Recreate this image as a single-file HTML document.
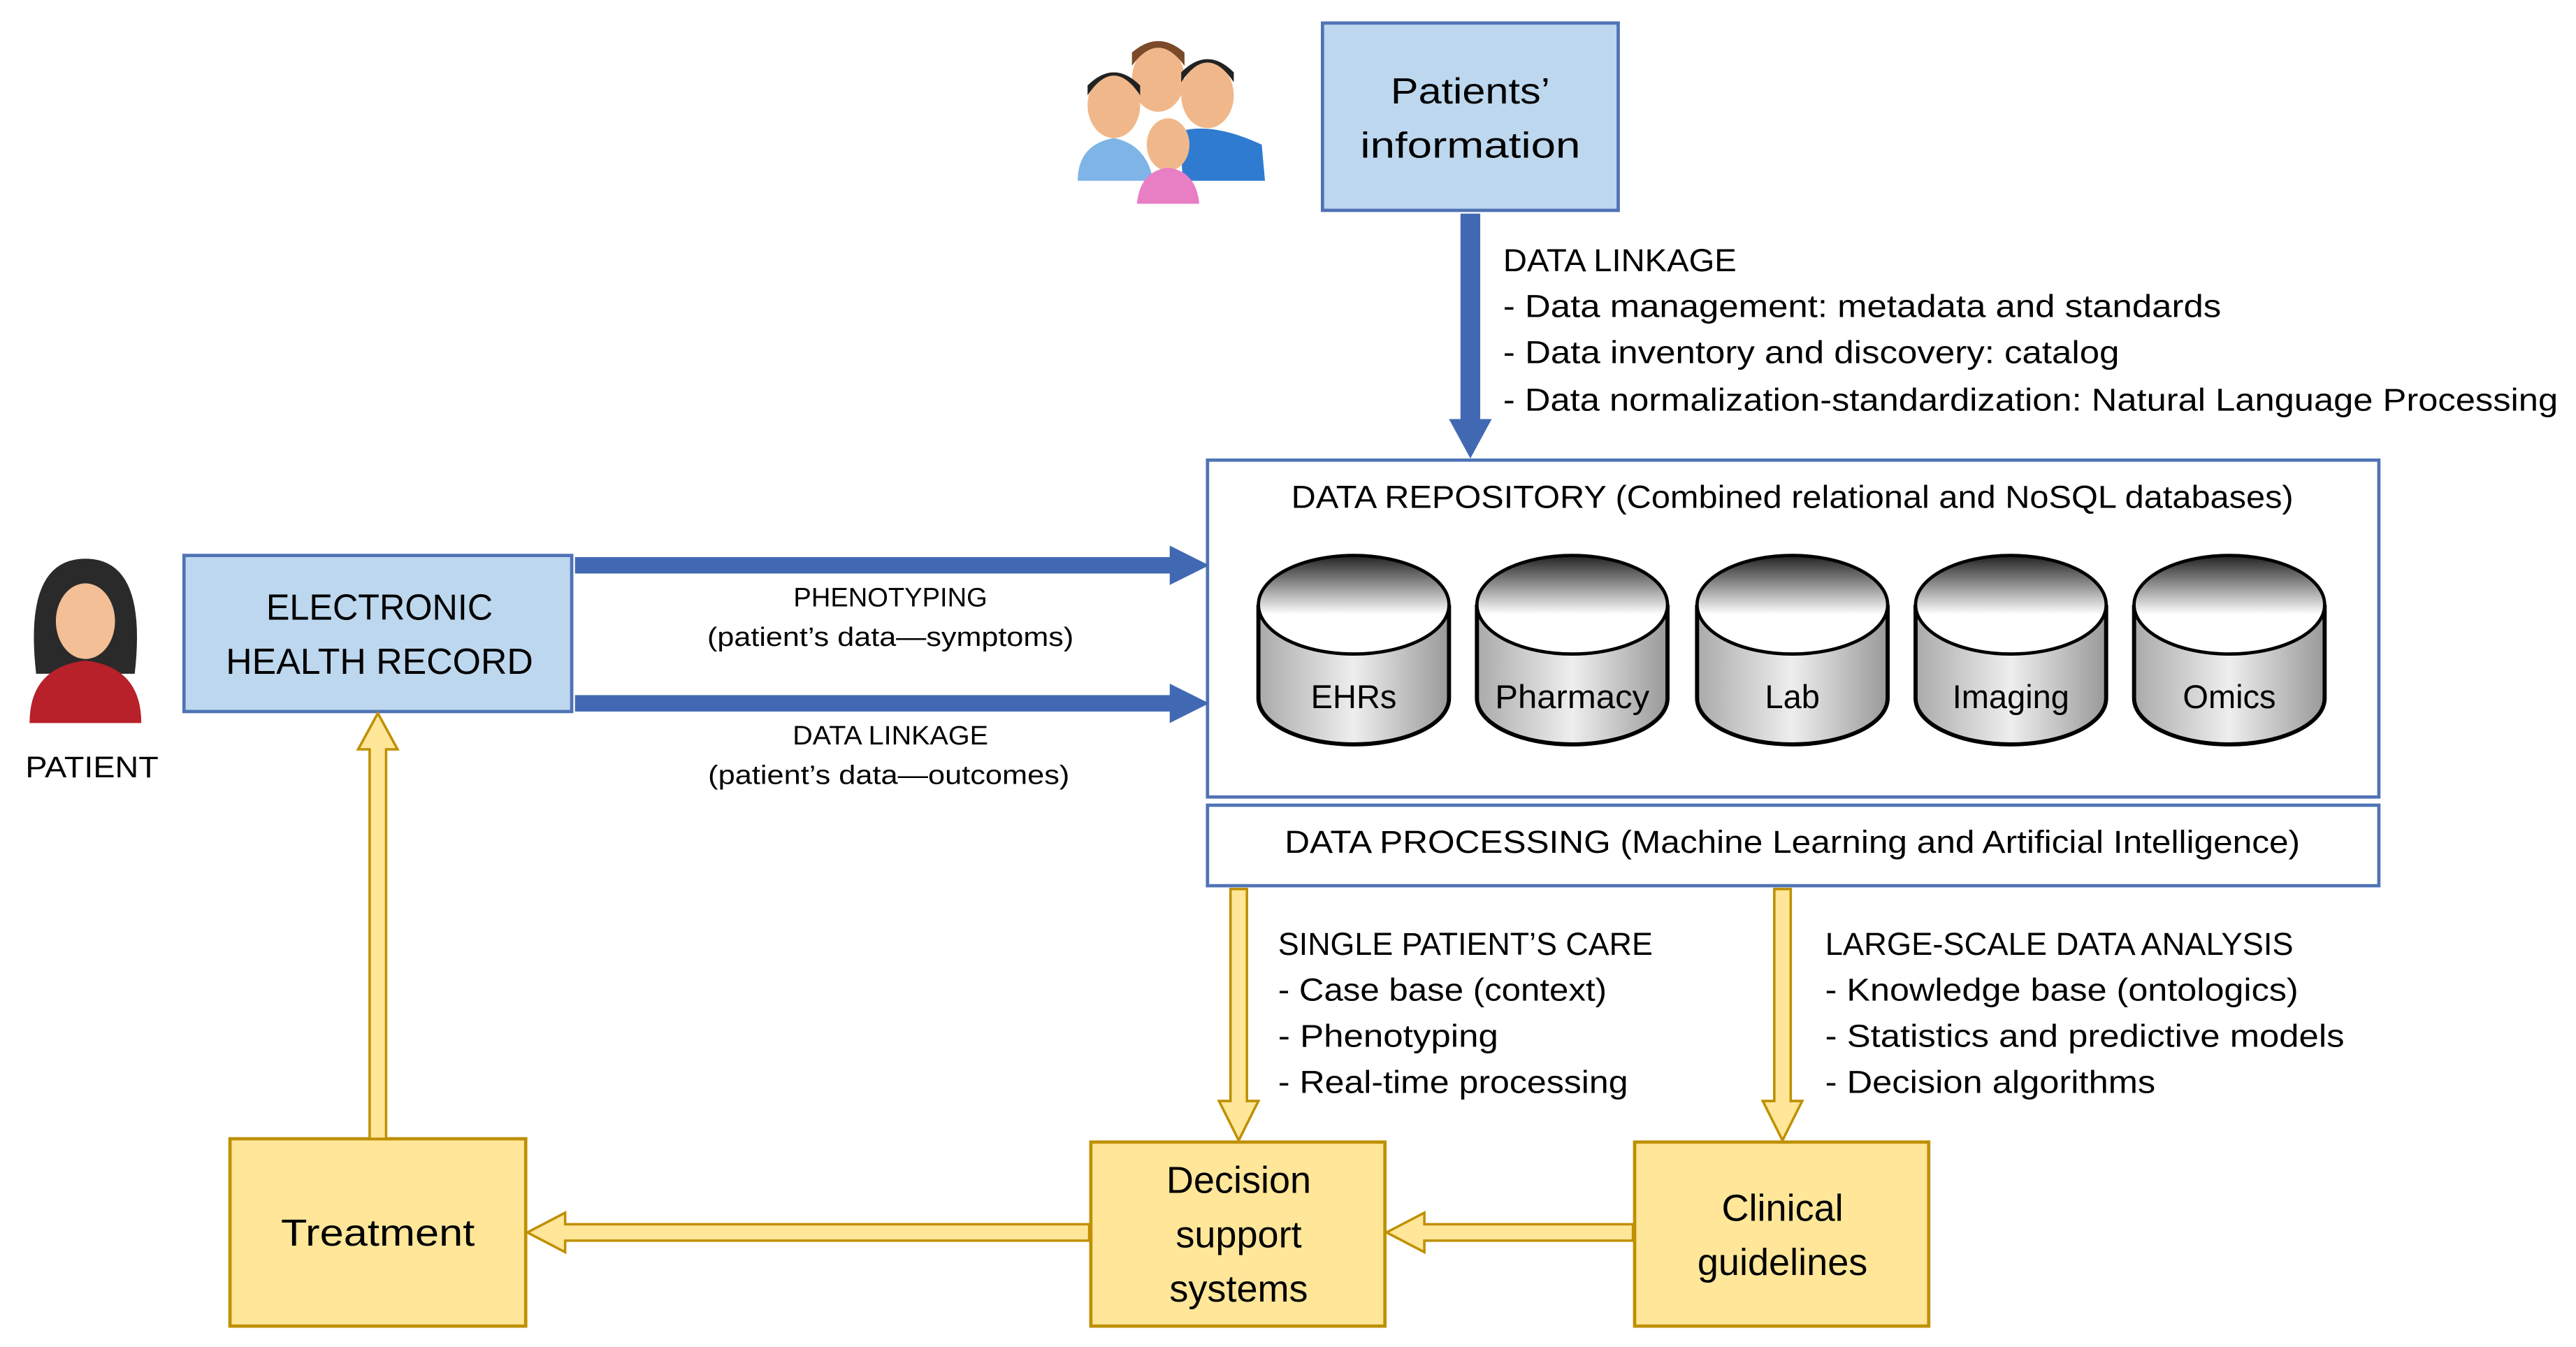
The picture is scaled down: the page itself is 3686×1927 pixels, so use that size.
<!DOCTYPE html>
<html><head><meta charset="utf-8"><style>html,body{margin:0;padding:0;background:#fff}svg{display:block}</style></head>
<body>
<svg width="3686" height="1927" viewBox="0 0 1568 819.7" xmlns="http://www.w3.org/2000/svg" font-family="Liberation Sans, sans-serif" fill="#000">
<defs>
<linearGradient id="cg" x1="0" y1="0" x2="0" y2="1"><stop offset="0" stop-color="#222"/><stop offset="0.6" stop-color="#fff"/></linearGradient>
<linearGradient id="cb" x1="0" y1="0" x2="1" y2="0"><stop offset="0" stop-color="#aaa"/><stop offset="0.5" stop-color="#eee"/><stop offset="1" stop-color="#999"/></linearGradient>
</defs>
<g>
<ellipse cx="705" cy="48" rx="16" ry="20" fill="#f0b88a"/><path d="M689 40 q16-22 32 0 l0-8 q-16-14-32 0z" fill="#7a4a2a"/>
<ellipse cx="735" cy="58" rx="16" ry="20" fill="#f0b88a"/><path d="M719 50 q16-24 32 0 l0-6 q-16-16-32 0z" fill="#222"/>
<path d="M718 80 q20-6 50 8 l2 22 -50 0z" fill="#2f7bd0"/>
<ellipse cx="678" cy="64" rx="16" ry="20" fill="#f0b88a"/><path d="M662 58 q16-24 32 0 l0-6 q-16-16-32 0z" fill="#222"/>
<path d="M656 110 q0-22 22-26 q20 4 24 26z" fill="#7fb4e6"/>
<ellipse cx="711" cy="88" rx="13" ry="16" fill="#f0b88a"/><path d="M692 124 q2-20 19-22 q17 2 19 22z" fill="#e87ec4"/>
</g>
<rect x="805" y="14" width="180" height="114" fill="#bdd7ee" stroke="#4f73b5" stroke-width="2"/>
<text x="895" y="63" font-size="22" text-anchor="middle" textLength="97" lengthAdjust="spacingAndGlyphs">Patients’</text>
<text x="895" y="96" font-size="22" text-anchor="middle" textLength="134" lengthAdjust="spacingAndGlyphs">information</text>
<rect x="889" y="130" width="12" height="127" fill="#4169b3"/>
<polygon points="882,255 908,255 895,279" fill="#4169b3"/>
<g font-size="19.5" lengthAdjust="spacingAndGlyphs">
<text x="915" y="165" textLength="142" lengthAdjust="spacingAndGlyphs">DATA LINKAGE</text>
<text x="915" y="193" textLength="437" lengthAdjust="spacingAndGlyphs">- Data management: metadata and standards</text>
<text x="915" y="221" textLength="375" lengthAdjust="spacingAndGlyphs">- Data inventory and discovery: catalog</text>
<text x="915" y="250" textLength="642" lengthAdjust="spacingAndGlyphs">- Data normalization-standardization: Natural Language Processing</text>
</g>
<rect x="735" y="280" width="713" height="205" fill="#fff" stroke="#4f73b5" stroke-width="2"/>
<text x="1091" y="309" font-size="19.5" text-anchor="middle" textLength="610" lengthAdjust="spacingAndGlyphs">DATA REPOSITORY (Combined relational and NoSQL databases)</text>
<g font-size="20" text-anchor="middle">
<g transform="translate(824,0)"><path d="M-58 368 L-58 425 A58 28 0 0 0 58 425 L58 368" fill="url(#cb)" stroke="#000" stroke-width="2.5"/><ellipse cx="0" cy="368" rx="58" ry="30" fill="url(#cg)" stroke="#000" stroke-width="2"/><text x="0" y="431">EHRs</text></g>
<g transform="translate(957,0)"><path d="M-58 368 L-58 425 A58 28 0 0 0 58 425 L58 368" fill="url(#cb)" stroke="#000" stroke-width="2.5"/><ellipse cx="0" cy="368" rx="58" ry="30" fill="url(#cg)" stroke="#000" stroke-width="2"/><text x="0" y="431" textLength="94" lengthAdjust="spacingAndGlyphs">Pharmacy</text></g>
<g transform="translate(1091,0)"><path d="M-58 368 L-58 425 A58 28 0 0 0 58 425 L58 368" fill="url(#cb)" stroke="#000" stroke-width="2.5"/><ellipse cx="0" cy="368" rx="58" ry="30" fill="url(#cg)" stroke="#000" stroke-width="2"/><text x="0" y="431">Lab</text></g>
<g transform="translate(1224,0)"><path d="M-58 368 L-58 425 A58 28 0 0 0 58 425 L58 368" fill="url(#cb)" stroke="#000" stroke-width="2.5"/><ellipse cx="0" cy="368" rx="58" ry="30" fill="url(#cg)" stroke="#000" stroke-width="2"/><text x="0" y="431">Imaging</text></g>
<g transform="translate(1357,0)"><path d="M-58 368 L-58 425 A58 28 0 0 0 58 425 L58 368" fill="url(#cb)" stroke="#000" stroke-width="2.5"/><ellipse cx="0" cy="368" rx="58" ry="30" fill="url(#cg)" stroke="#000" stroke-width="2"/><text x="0" y="431">Omics</text></g>
</g>
<rect x="735" y="490" width="713" height="49" fill="#fff" stroke="#4f73b5" stroke-width="2"/>
<text x="1091" y="519" font-size="19.5" text-anchor="middle" textLength="618" lengthAdjust="spacingAndGlyphs">DATA PROCESSING (Machine Learning and Artificial Intelligence)</text>
<rect x="112" y="338" width="236" height="95" fill="#bdd7ee" stroke="#4f73b5" stroke-width="2"/>
<text x="231" y="377" font-size="22" text-anchor="middle" textLength="138" lengthAdjust="spacingAndGlyphs">ELECTRONIC</text>
<text x="231" y="410" font-size="22" text-anchor="middle" textLength="187" lengthAdjust="spacingAndGlyphs">HEALTH RECORD</text>
<path d="M22 410 q-8-70 30-70 q38 0 30 70z" fill="#2a2a2a"/>
<ellipse cx="52" cy="378" rx="18" ry="23" fill="#f3bf96"/>
<path d="M18 440 q0-34 34-38 q34 4 34 38z" fill="#b8202a"/>
<text x="56" y="473" font-size="18" text-anchor="middle" textLength="81" lengthAdjust="spacingAndGlyphs">PATIENT</text>
<rect x="350" y="339" width="364" height="10" fill="#4169b3"/><polygon points="712,332 736,344 712,356" fill="#4169b3"/>
<rect x="350" y="423" width="364" height="10" fill="#4169b3"/><polygon points="712,416 736,428 712,440" fill="#4169b3"/>
<g font-size="16" text-anchor="middle">
<text x="542" y="369" textLength="118" lengthAdjust="spacingAndGlyphs">PHENOTYPING</text>
<text x="542" y="393" textLength="223" lengthAdjust="spacingAndGlyphs">(patient’s data—symptoms)</text>
<text x="542" y="453" textLength="119" lengthAdjust="spacingAndGlyphs">DATA LINKAGE</text>
<text x="541" y="477" textLength="220" lengthAdjust="spacingAndGlyphs">(patient’s data—outcomes)</text>
</g>
<g fill="#ffe699" stroke="#bf9000" stroke-width="2">
<rect x="140" y="693" width="180" height="114"/>
<rect x="664" y="695" width="179" height="112"/>
<rect x="995" y="695" width="179" height="112"/>
<polygon points="225,693 225,456 218,456 230,434 242,456 235,456 235,693" stroke-width="1.5"/>
<polygon points="749,541 749,670 742,670 754,694 766,670 759,670 759,541" stroke-width="1.5"/>
<polygon points="1080,541 1080,670 1073,670 1085,694 1097,670 1090,670 1090,541" stroke-width="1.5"/>
<polygon points="663,745 344,745 344,738 321,750 344,762 344,755 663,755" stroke-width="1.5"/>
<polygon points="994,745 867,745 867,738 844,750 867,762 867,755 994,755" stroke-width="1.5"/>
</g>
<text x="230" y="758" font-size="23" text-anchor="middle" textLength="118" lengthAdjust="spacingAndGlyphs">Treatment</text>
<g font-size="23" text-anchor="middle">
<text x="754" y="726">Decision</text><text x="754" y="759">support</text><text x="754" y="792">systems</text>
<text x="1085" y="743">Clinical</text><text x="1085" y="776">guidelines</text>
</g>
<g font-size="19.5">
<text x="778" y="581" textLength="228" lengthAdjust="spacingAndGlyphs">SINGLE PATIENT’S CARE</text>
<text x="778" y="609" textLength="200" lengthAdjust="spacingAndGlyphs">- Case base (context)</text>
<text x="778" y="637" textLength="134" lengthAdjust="spacingAndGlyphs">- Phenotyping</text>
<text x="778" y="665" textLength="213" lengthAdjust="spacingAndGlyphs">- Real-time processing</text>
<text x="1111" y="581" textLength="285" lengthAdjust="spacingAndGlyphs">LARGE-SCALE DATA ANALYSIS</text>
<text x="1111" y="609" textLength="288" lengthAdjust="spacingAndGlyphs">- Knowledge base (ontologics)</text>
<text x="1111" y="637" textLength="316" lengthAdjust="spacingAndGlyphs">- Statistics and predictive models</text>
<text x="1111" y="665" textLength="201" lengthAdjust="spacingAndGlyphs">- Decision algorithms</text>
</g>
</svg>
</body></html>
